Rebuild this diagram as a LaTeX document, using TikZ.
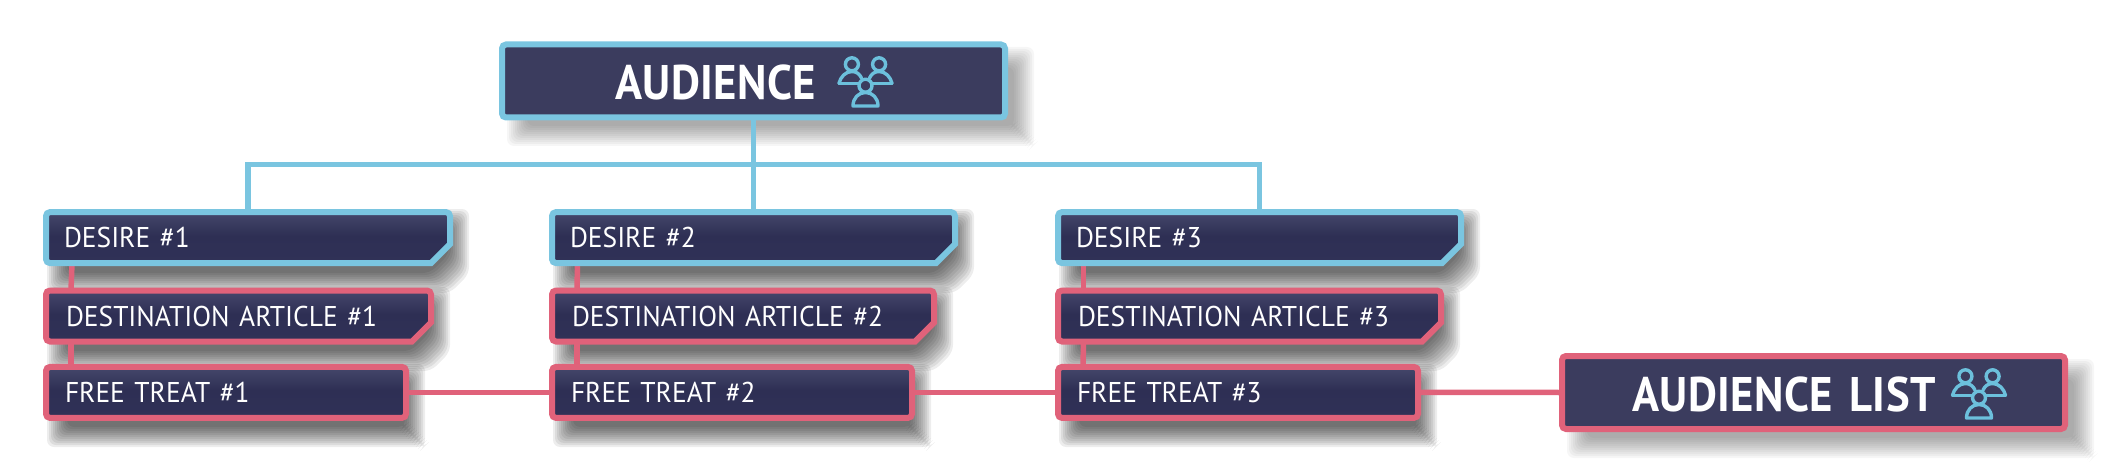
\documentclass[tikz,border=0pt]{standalone}
\usepackage{fontspec}
\setmainfont{PT Sans}
\newfontfamily\regfont[FakeStretch=0.96]{PT Sans}
\newfontfamily\boldfont[FakeStretch=0.92,LetterSpace=1]{PT Sans Bold}
\usetikzlibrary{fadings}
\definecolor{skyline}{HTML}{7AC5E0}
\definecolor{pinkline}{HTML}{E0627A}
\definecolor{iconblue}{HTML}{6CC0DC}
\definecolor{navytop}{HTML}{45476B}
\definecolor{navymid}{HTML}{2E2F54}
\definecolor{navylow}{HTML}{303157}
\definecolor{navybig}{HTML}{3B3C5E}
\pgfdeclareverticalshading{boxshade}{100bp}{color(0bp)=(navylow); color(25bp)=(navylow); color(52bp)=(navymid); color(75bp)=(navytop); color(100bp)=(navytop)}
\pgfdeclarelayer{shadowlayer}
\pgfdeclarelayer{connlayer}
\pgfdeclarelayer{boxlayer}
\pgfsetlayers{shadowlayer,connlayer,boxlayer,main}
\tikzset{
  x=1pt,y=-1pt,
  glow/.style={path picture={\fill[white,opacity=.07,path fading=west]
     (path picture bounding box.south west) rectangle ([xshift=#1]path picture bounding box.north west);}},
  boxbase/.style={rounded corners=4pt,line width=6pt,text=white,anchor=center,align=left,
     text height=#1,text depth=0pt,inner ysep=0pt,shape=rectangle,outer sep=0pt},
  smallfill/.style={shade,shading=boxshade,glow=26pt},
  smallbox/.style 2 args={boxbase=20pt,font=\regfont\fontsize{28.6}{30}\selectfont,
     minimum height=51pt,minimum width=#1-6pt,text width=#1-6pt-2*#2,inner xsep=#2},
  squarebox/.style={smallfill,draw=pinkline},
  bigbox/.style 2 args={boxbase=38pt,font=\boldfont\fontsize{48.6}{50}\selectfont,
     minimum height=73pt,minimum width=#1-6pt,text width=#1-6pt-2*#2,inner xsep=#2,
     fill=navybig,glow=40pt},
  outline/.style={line width=6pt,line join=miter,smallfill},
  bluelink/.style={draw=skyline,line width=5.5pt},
  pinklink/.style={draw=pinkline,line width=5.5pt},
  people/.pic={
    \begin{scope}[draw=iconblue,line width=3.4pt,line join=round,line cap=round]
      \draw (-13.6,-16.7) circle[radius=6.5pt];
      \draw (13.6,-16.7) circle[radius=6.5pt];
      \draw (0,4.7) circle[radius=6.5pt];
      \draw (-26.5,2.3) .. controls (-25,-4) and (-20,-9.5) .. (-13.6,-9.5)
            .. controls (-9,-9.5) and (-6,-7) .. (-4,-3);
      \draw (-26.5,2.3) -- (-6.5,2.3);
      \draw (26.5,2.3) .. controls (25,-4) and (20,-9.5) .. (13.6,-9.5)
            .. controls (9,-9.5) and (6,-7) .. (4,-3);
      \draw (26.5,2.3) -- (6.5,2.3);
      \draw (-12.5,25) .. controls (-12.5,17) and (-7,11.5) .. (0,11.5)
            .. controls (7,11.5) and (12.5,17) .. (12.5,25) -- cycle;
    \end{scope}}
}
% soft shadow: x0 y0 x1 y1 chamfer layer-opacity
\newcommand{\softshade}[6]{%
  \foreach \k in {0,...,10}{%
    \pgfmathsetmacro{\e}{10-2*\k}%
    \fill[black,opacity=#6,rounded corners=7pt]
      (#1-\e,#2-\e) -- (#3+\e,#2-\e) -- (#3+\e,#4+\e-#5) -- (#3+\e-#5,#4+\e) -- (#1-\e,#4+\e) -- cycle;
  }}
% notched outline drawn behind a named node: rounded outer corners, sharp notch
\newcommand{\notchbox}[2]{%
  \begin{pgfonlayer}{boxlayer}
    \draw[outline,draw=#2] ([yshift=19pt]#1.south east) -- ([xshift=-19pt]#1.south east)
      [rounded corners=4pt] -- (#1.south west) -- (#1.north west) -- (#1.north east)
      [sharp corners] -- cycle;
  \end{pgfonlayer}}
\begin{document}
\begin{tikzpicture}
\useasboundingbox (0,0) rectangle (2110,476);
% boxes
\node[bigbox={509pt}{113pt},draw=skyline] (aud) at (753.5,81) {AUDIENCE};
\node[smallbox={410pt}{18pt}] (d1) at (248,237.6) {DESIRE \#1};
\node[smallbox={409pt}{18pt}] (d2) at (753.5,237.6) {DESIRE \#2};
\node[smallbox={409pt}{18pt}] (d3) at (1259.5,237.6) {DESIRE \#3};
\node[smallbox={391pt}{20pt}] (a1) at (238.5,316) {DESTINATION ARTICLE \#1};
\node[smallbox={388pt}{20pt}] (a2) at (743,316) {DESTINATION ARTICLE \#2};
\node[smallbox={389pt}{20pt}] (a3) at (1249.5,316) {DESTINATION ARTICLE \#3};
\node[smallbox={366pt}{19pt},squarebox] (t1) at (226,392.4) {FREE TREAT \#1};
\node[smallbox={366pt}{19pt},squarebox] (t2) at (732,392.4) {FREE TREAT \#2};
\node[smallbox={366pt}{19pt},squarebox] (t3) at (1238,392.4) {FREE TREAT \#3};
\node[bigbox={509pt}{70pt},draw=pinkline] (lst) at (1813.5,392.5) {AUDIENCE LIST};
\notchbox{d1}{skyline}\notchbox{d2}{skyline}\notchbox{d3}{skyline}
\notchbox{a1}{pinkline}\notchbox{a2}{pinkline}\notchbox{a3}{pinkline}
% icons
\pic at (865.5,81) {people};
\pic at (1979,393) {people};
% shadows
\begin{pgfonlayer}{shadowlayer}
  \softshade{517}{57}{1024}{136}{1}{.034}
  \softshade{1577}{369}{2084}{448}{1}{.034}
  \foreach \x/\wa/\wb/\wc in {43/410/391/366,549/409/388/366,1055/409/389/366}{
    \softshade{\x+14}{219}{\x+\wa+6}{283}{19}{.07}
    \softshade{\x+14}{297}{\x+\wb+6}{361}{19}{.07}
    \softshade{\x+14}{374}{\x+\wc+6}{437}{1}{.07}
  }
\end{pgfonlayer}
% connectors
\begin{pgfonlayer}{connlayer}
  \coordinate (busl) at (d1.north |- 0,164.5);
  \coordinate (busr) at (d3.north |- 0,164.5);
  \draw[bluelink] (aud.south) -- (d2.north);
  \draw[bluelink] (d1.north) -- (busl) -- (busr) -- (d3.north);
  \foreach \p/\q/\sa/\sb in {d1/a1/-176/-167.5,d2/a2/-176/-166,d3/a3/-176/-166}{
    \draw[pinklink] ([xshift=\sa pt]\p.south) -- ([xshift=\sb pt]\q.north);
  }
  \foreach \p/\q/\sa/\sb in {a1/t1/-167.5/-155,a2/t2/-166/-155,a3/t3/-166/-155}{
    \draw[pinklink] ([xshift=\sa pt]\p.south) -- ([xshift=\sb pt]\q.north);
  }
  \draw[pinklink] (t1.east) -- (t2.west);
  \draw[pinklink] (t2.east) -- (t3.west);
  \draw[pinklink] (t3.east) -- (lst.west);
\end{pgfonlayer}
\end{tikzpicture}
\end{document}
